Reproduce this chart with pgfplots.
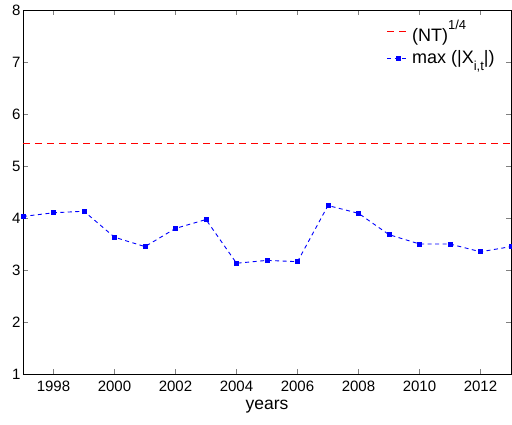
\documentclass[border=0pt]{standalone}
\usepackage{pgfplots}
\pgfplotsset{compat=1.18}
\usepackage{fontspec}
\setmainfont{Liberation Sans}
\begin{document}
\begin{tikzpicture}[x=1pt,y=1pt]
\begin{axis}[
  scale only axis,
  width=488pt, height=364pt,
  xmin=1997, xmax=2013, ymin=1, ymax=8,
  xtick={1998,2000,...,2012},
  ytick={1,2,...,8},
  x tick label style={/pgf/number format/1000 sep={}, yshift=-3pt},
  y tick label style={xshift=1pt},
  /pgf/number format/assume math mode=true,
  tick align=inside,
  major tick length=5pt,
  ticklabel style={font=\fontsize{15}{17}\selectfont},
  xlabel={years},
  xlabel style={font=\fontsize{17.5}{20}\selectfont, yshift=-2pt},
  legend style={draw=none, fill=none, at={(0.745,0.985)}, anchor=north west,
    font=\fontsize{18}{20}\selectfont, row sep=4pt, inner xsep=0pt},
  legend cell align=left,
  legend image code/.code={
    \pgfinterruptboundingbox
    \draw[white, line width=0.1pt] (0pt,3000pt) -- (0.1pt,3000pt);
    \endpgfinterruptboundingbox
    \draw[#1] (0pt,0pt) -- (22pt,0pt);
    \draw[#1, solid] plot coordinates {(11pt,0pt)};
  },
  clip=false,
]
\addplot[forget plot, white, line width=0.1pt] coordinates {(2014,40) (2014.1,40)};
\addlegendimage{red, line width=1.4pt, dash pattern=on 7pt off 5pt}
\addlegendentry{(NT)\raisebox{1.3ex}{\fontsize{13}{14}\selectfont 1/4}}
\addplot[blue, line width=0.9pt, dash pattern=on 4pt off 3.5pt, mark=square*, mark size=2pt,
  mark options={solid, fill=blue, line width=0.6pt}] coordinates {
(1997,4.03) (1998,4.10) (1999,4.13) (2000,3.63) (2001,3.45) (2002,3.80)
(2003,3.97) (2004,3.13) (2005,3.185) (2006,3.16) (2007,4.24) (2008,4.09)
(2009,3.68) (2010,3.50) (2011,3.50) (2012,3.35) (2013,3.45)};
\addlegendentry{max (|X\raisebox{-0.65ex}{\fontsize{13}{14}\selectfont i,t}|)}
\addplot[forget plot, red, line width=1.4pt, dash pattern=on 7pt off 5pt] coordinates {(1997,5.43) (2013,5.43)};
\end{axis}
\pgfresetboundingbox
\path (current axis.south west) ++(-23pt,-51pt) coordinate (bl);
\path (current axis.south west) ++(489pt,374pt) coordinate (tr);
\useasboundingbox (bl) rectangle (tr);
\end{tikzpicture}
\end{document}
